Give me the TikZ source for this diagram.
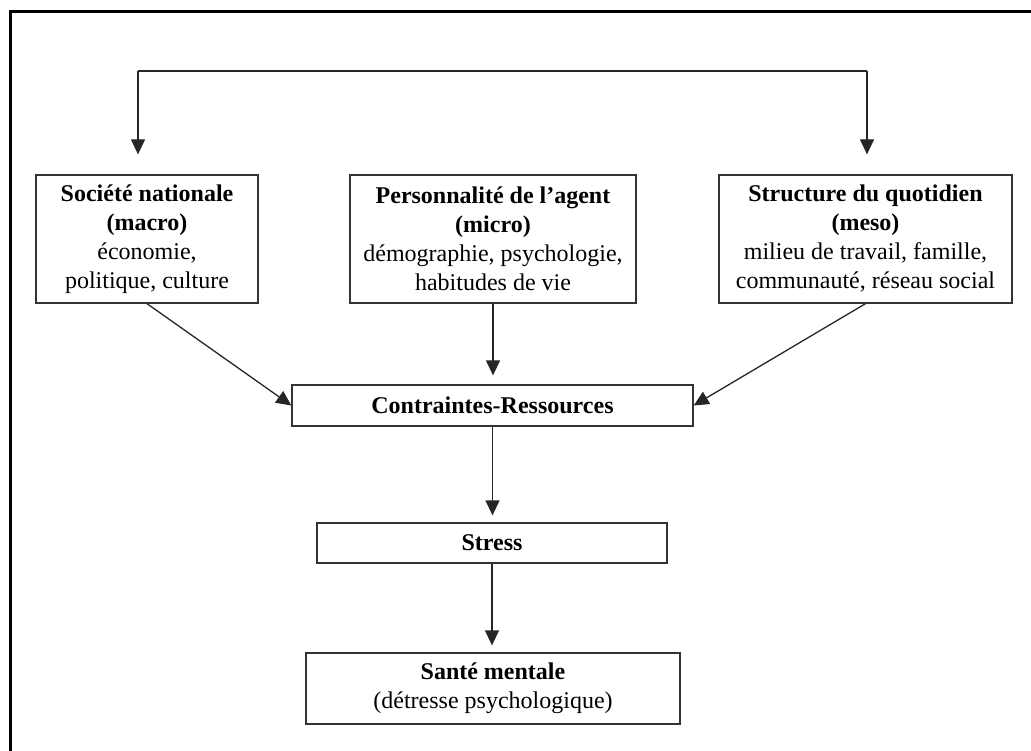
\documentclass[tikz,border=0pt]{standalone}
\usepackage{fontspec}
\setmainfont{Liberation Serif}
\usetikzlibrary{arrows.meta}
\begin{document}
\begin{tikzpicture}[x=1pt,y=-1pt,
  box/.style={draw=black!80,line width=1.3pt,align=center,inner sep=0pt,
    font=\fontsize{24}{29}\selectfont},
  arr/.style={draw=black!85,line width=1.3pt,-{Triangle[length=15pt,width=14pt]}}]
\useasboundingbox (0,0) rectangle (1031,751);
\fill[white] (0,0) rectangle (1031,751);
\draw[line width=3pt] (10,751) -- (10,12) -- (1031,12);

\node[box,minimum width=222pt,minimum height=128pt] (soc) at (147,239)
  {\textbf{Société nationale}\\ \textbf{(macro)}\\ économie,\\ politique, culture};
\node[box,minimum width=286pt,minimum height=128pt] (pers) at (493,239)
  {\textbf{Personnalité de l’agent}\\ \textbf{(micro)}\\ démographie, psychologie,\\ habitudes de vie};
\node[box,minimum width=293pt,minimum height=128pt] (struc) at (865.5,239)
  {\textbf{Structure du quotidien}\\ \textbf{(meso)}\\ milieu de travail, famille,\\ communauté, réseau social};
\node[box,minimum width=401pt,minimum height=41pt] (cr) at (492.5,405.5)
  {\textbf{Contraintes-Ressources}};
\node[box,minimum width=350pt,minimum height=40pt] (stress) at (492,543)
  {\textbf{Stress}};
\node[box,minimum width=374pt,minimum height=71pt] (sante) at (493,688.5)
  {\textbf{Santé mentale}\\ (détresse psychologique)};

\coordinate (tl) at (138,71);
\coordinate (tr) at (867,71);
\draw[draw=black!85,line width=1.3pt] (tl) -- (tr);
\draw[arr,shorten >=20pt] (tl) -- (tl |- soc.north);
\draw[arr,shorten >=20pt] (tr) -- (tr |- struc.north);
\draw[arr] (soc.south) -- (cr.west);
\draw[arr] (struc.south) -- (cr.east);
\draw[arr,shorten >=9pt] (pers.south) -- (pers.south |- cr.north);
\draw[arr,shorten >=7pt] (cr.south) -- (cr.south |- stress.north);
\draw[arr,shorten >=7pt] (stress.south) -- (stress.south |- sante.north);
\end{tikzpicture}
\end{document}
